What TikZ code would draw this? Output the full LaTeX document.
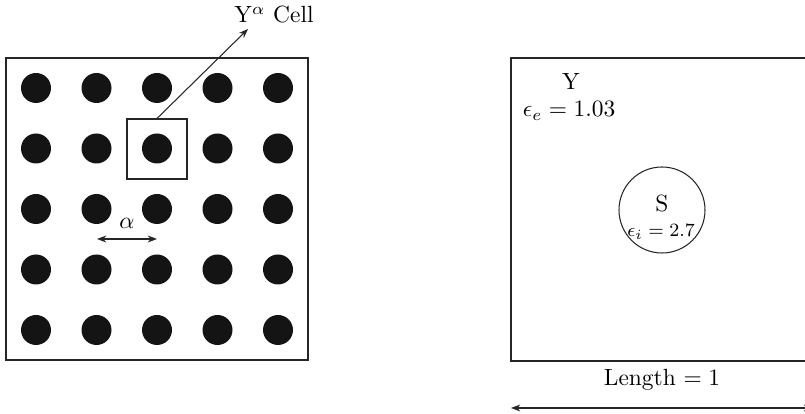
\documentclass[tikz,border=0pt]{standalone}
\usetikzlibrary{arrows.meta}
\tikzset{
	rod/.style={fill=black!92},
	frame/.style={draw=black!85, line width=0.45pt},
	tipped/.style={-{Stealth[length=4pt,width=3pt]}, draw=black!85, line width=0.45pt},
	dimarrow/.style={{Stealth[length=4pt,width=3pt]}-{Stealth[length=4pt,width=3pt]}, draw=black!85, line width=0.45pt},
}
\begin{document}
\begin{tikzpicture}[x=0.015cm, y=-0.015cm]
			%%%%% START %%%%%
			\clip (0,0) rectangle (805,414);
			
			% periodic medium
			\draw[frame] (6,58) rectangle (308,360);
			\foreach \i in {0,...,4}
				\foreach \j in {0,...,4}
					\fill[rod] (36+60.5*\i, 88+60.5*\j) circle (15);
			
			\node[frame, minimum size=0.9cm, inner sep=0pt] (cell) at (157,149) {};
			\coordinate (celltip) at (248,29);
			\node (celllbl) at (274,15) {Y$^\alpha$ Cell};
			\draw[tipped] (cell.north) -- (celltip);
			
			\coordinate (pitchl) at (97,239);
			\coordinate (pitchr) at (157,239);
			\draw[dimarrow] (pitchl) -- (pitchr);
			\node (pitch) at (127,223) {$\alpha$};
			
			% unit cell
			\draw[frame] (511,58) rectangle (813,361);
			\node (ylbl) at (571,82) {Y};
			\node (epse) at (569,111) {$\epsilon_e = 1.03$};
			
			\node[circle, frame, minimum size=1.29cm, inner sep=0pt] (incl) at (662,210) {};
			\node (slbl) at (662,204) {S};
			\node[font=\fontsize{8.3pt}{10pt}\selectfont] (epsi) at (661,232) {$\epsilon_i = 2.7$};
			
			\node (len) at (662,380) {Length $=1$};
			\coordinate (lenl) at (511,408);
			\coordinate (lenr) at (813,408);
			\draw[dimarrow] (lenl) -- (lenr);
			%%%%% END %%%%%
		\end{tikzpicture}
\end{document}
